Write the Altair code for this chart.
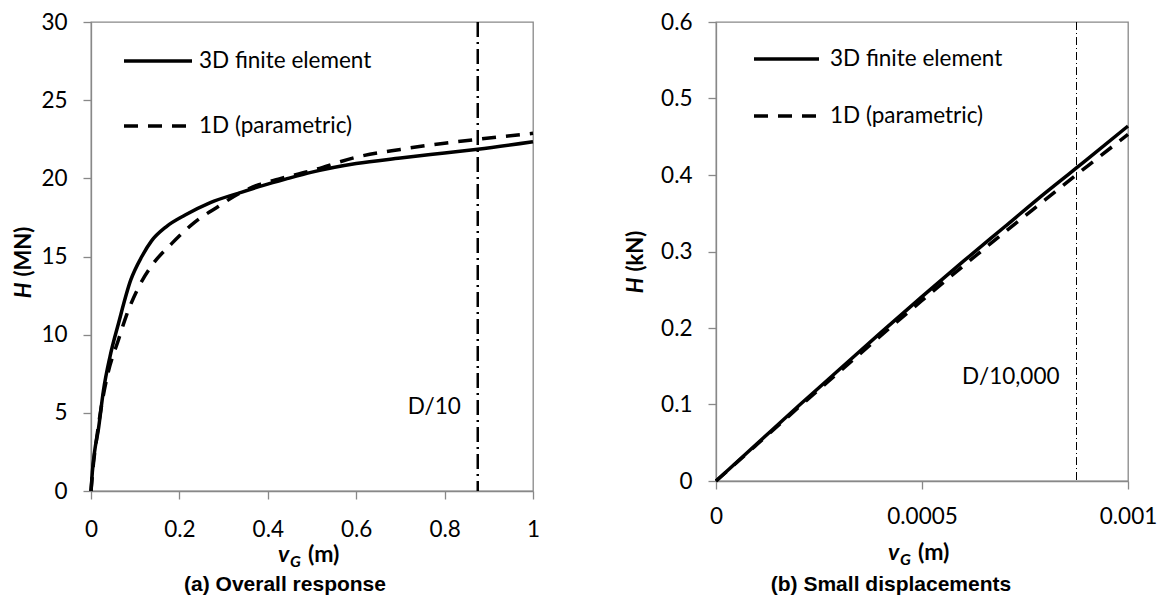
import altair as alt
import pandas as pd

# ---------------- data ----------------
# (a) overall response : v_G (m) vs H (MN)
fe_a_v = [0, 0.003, 0.008, 0.0165, 0.028, 0.043, 0.062, 0.09, 0.115, 0.137, 0.17,
          0.213, 0.27, 0.333, 0.39, 0.44, 0.5, 0.6, 0.7, 0.8, 0.875, 1.0]
fe_a_h = [0, 1.2, 2.5, 3.9, 6.4, 8.6, 10.7, 13.5, 15.0, 16.0, 16.9,
          17.65, 18.45, 19.04, 19.55, 19.95, 20.4, 20.95, 21.3, 21.62, 21.86, 22.34]
pa_a_v = [0, 0.005, 0.0129, 0.024, 0.039, 0.062, 0.081, 0.107, 0.137, 0.183, 0.235,
          0.288, 0.333, 0.38, 0.424, 0.5, 0.6, 0.7, 0.8, 0.875, 1.0]
pa_a_h = [0, 1.6, 3.4, 5.5, 7.6, 9.66, 11.3, 13.0, 14.4, 15.84, 17.2,
          18.2, 19.0, 19.6, 19.95, 20.5, 21.35, 21.85, 22.25, 22.5, 22.88]

# (b) small displacements : v_G (m) vs H (kN)
fe_b_v = [0, 0.0001, 0.0002, 0.0003, 0.0004, 0.0005, 0.0006, 0.0007, 0.0008, 0.0009, 0.001]
fe_b_h = [0, 0.049, 0.098, 0.146, 0.194, 0.241, 0.287, 0.332, 0.377, 0.420, 0.464]
pa_b_v = [0, 0.0001, 0.0002, 0.0003, 0.0004, 0.0005, 0.0006, 0.0007, 0.0008, 0.0009, 0.001]
pa_b_h = [0, 0.048, 0.096, 0.143, 0.190, 0.236, 0.281, 0.325, 0.368, 0.411, 0.453]

xticks_a = [0, 0.2, 0.4, 0.6, 0.8, 1]
yticks_a = [0, 5, 10, 15, 20, 25, 30]
xticks_b = [0, 0.0005, 0.001]
yticks_b = [0, 0.1, 0.2, 0.3, 0.4, 0.5, 0.6]

vline_a = 0.875
vline_b = 0.000875

series_names = ["3D finite element", "1D (parametric)"]

GRAY = "#888888"
FONT = "Lato"
FS = 22.5
one = pd.DataFrame({"k": [0]})


def txt(text, x, y, size=FS, weight="normal", style="normal", angle=0,
        align="left", baseline="middle", font=FONT):
    kw = dict(text=text, fontSize=size, fontWeight=weight, fontStyle=style,
              align=align, baseline=baseline, font=font, color="black")
    if angle:
        kw["angle"] = angle
    return alt.Chart(one).mark_text(**kw).encode(x=alt.value(x), y=alt.value(y))


def panel(fe_v, fe_h, pa_v, pa_h, xdom, ydom, xt, yt, W, H, vline, vlabel,
          vdash, vwidth, vlabel_y, ylab_unit, ytitle_x, leg_x0, leg_x1,
          leg_y1, leg_y2, leg_tx, sub_text, sub_x, xlab_pad, xtitle_y, sub_y):
    df_fe = pd.DataFrame({"v": fe_v, "h": fe_h})
    df_pa = pd.DataFrame({"v": pa_v, "h": pa_h})

    ax_common = dict(tickSize=8, tickColor=GRAY, tickWidth=1.3, domainColor=GRAY,
                     domainWidth=1.3, labelFont=FONT, labelFontSize=FS,
                     labelColor="black", grid=False, title=None, format="~g",
                     labelFlush=False, labelOverlap=False)
    xs = alt.X("v:Q", scale=alt.Scale(domain=xdom, nice=False, zero=False),
               axis=alt.Axis(values=xt, labelPadding=xlab_pad, **ax_common))
    ys = alt.Y("h:Q", scale=alt.Scale(domain=ydom, nice=False, zero=False),
               axis=alt.Axis(values=yt, labelPadding=16, **ax_common))

    fe = alt.Chart(df_fe).mark_line(color="black", strokeWidth=3.5,
                                    interpolate="monotone").encode(x=xs, y=ys)
    pa = alt.Chart(df_pa).mark_line(color="black", strokeWidth=3.5,
                                    strokeDash=[14, 10],
                                    interpolate="monotone").encode(x=xs, y=ys)

    vl = alt.Chart(one).mark_rule(color="black", strokeWidth=vwidth,
                                  strokeDash=vdash).encode(
        x=alt.datum(vline), y=alt.value(0), y2=alt.value(H))
    vt = alt.Chart(one).mark_text(text=vlabel, font=FONT, fontSize=FS,
                                  align="right", baseline="middle", dx=-17,
                                  color="black").encode(
        x=alt.datum(vline), y=alt.value(vlabel_y))

    # legend (inside plot)
    l1 = alt.Chart(one).mark_rule(color="black", strokeWidth=3.5).encode(
        x=alt.value(leg_x0), x2=alt.value(leg_x1), y=alt.value(leg_y1))
    l2 = alt.Chart(one).mark_rule(color="black", strokeWidth=3.5,
                                  strokeDash=[14, 10]).encode(
        x=alt.value(leg_x0), x2=alt.value(leg_x1), y=alt.value(leg_y2))
    t1 = txt(series_names[0], leg_tx, leg_y1)
    t2 = txt(series_names[1], leg_tx, leg_y2)

    # y title: italic H + (unit)
    yc = H / 2
    junction = yc + 26
    yh = txt("H", ytitle_x, junction, size=22, weight="bold", style="italic",
             angle=270, align="right")
    yu = txt(ylab_unit, ytitle_x, junction - 6, size=22, weight="bold",
             angle=270, align="left")

    # x title: v_G (m)
    xc = W / 2
    s = xc - 34
    xv = txt("v", s, xtitle_y, size=23, weight="bold", style="italic")
    xg = txt("G", s + 12, xtitle_y + 7, size=16, weight="bold", style="italic")
    xm = txt("(m)", s + 30, xtitle_y, size=23, weight="bold")

    sub = txt(sub_text, sub_x, sub_y, size=21, weight="bold",
              align="center", font="Liberation Sans")

    return alt.layer(vl, fe, pa, vt, l1, l2, t1, t2, yh, yu, xv, xg, xm, sub).properties(
        width=W, height=H)


W1, H1 = 442, 469
W2, H2 = 412, 459

left = panel(fe_a_v, fe_a_h, pa_a_v, pa_a_h, [0, 1], [0, 30], xticks_a, yticks_a,
             W1, H1, vline_a, "D/10", [15, 5, 2, 5], 2.5, 385, "(MN)", -67,
             33, 101, 39, 104, 108, "(a) Overall response", 194, 19, 533, 563)
right = panel(fe_b_v, fe_b_h, pa_b_v, pa_b_h, [0, 0.001], [0, 0.6], xticks_b, yticks_b,
              W2, H2, vline_b, "D/10,000", [8, 3, 1, 3], 1, 355, "(kN)", -80,
              38, 103, 37, 94, 114, "(b) Small displacements", 175, 16, 531, 563)

chart = alt.hconcat(left, right, spacing=183, bounds="flush").configure(
    padding={"left": 12, "top": 10, "right": 0, "bottom": 0}
).configure_view(stroke=GRAY, strokeWidth=1.3)

chart.save("out.html", embed_options={"renderer": "svg", "actions": False})
